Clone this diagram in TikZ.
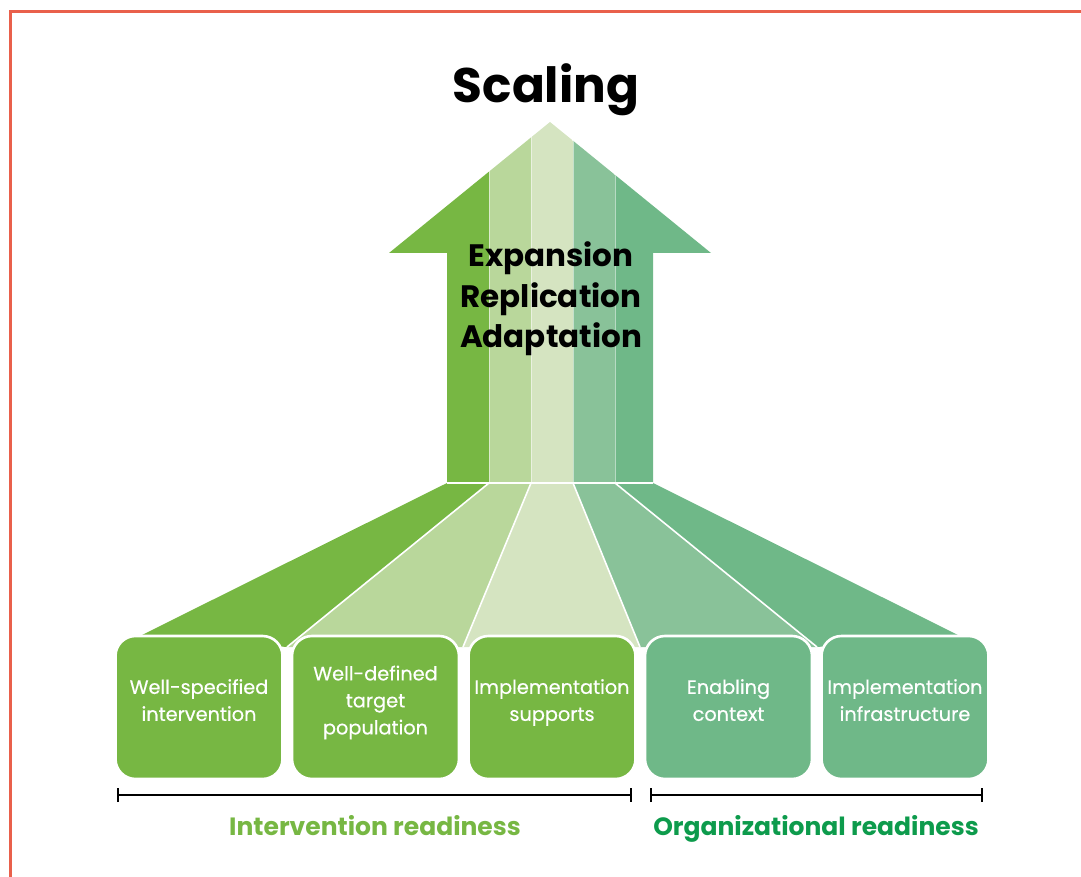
\documentclass[tikz,border=0pt]{standalone}
\usepackage{fontspec}
\setmainfont{Poppins}
\newfontfamily\cardfont[FakeBold=0.5]{Poppins}
\usetikzlibrary{arrows.meta}
\definecolor{grA}{RGB}{119,183,67}
\definecolor{grB}{RGB}{185,215,155}
\definecolor{grC}{RGB}{213,228,193}
\definecolor{grD}{RGB}{137,194,153}
\definecolor{grE}{RGB}{111,184,136}
\definecolor{orgtext}{RGB}{13,155,76}
\definecolor{frame}{RGB}{233,96,75}
\begin{document}
\begin{tikzpicture}[x=1pt,y=-1pt,
	card/.style={draw=white,line width=2.6pt,rounded corners=20pt,minimum width=167pt,minimum height=143pt,inner sep=0pt,text=white,align=center,font=\cardfont\fontsize{19.3}{27}\selectfont,execute at begin node=\rule{0pt}{15pt},execute at end node=\rule[-15pt]{0pt}{15pt}},
	headline/.style={anchor=base,font=\fontsize{31}{40}\selectfont\bfseries},
	readiness/.style={anchor=base,font=\fontsize{25}{30}\selectfont\bfseries},
	bracket/.style={line width=2.3pt,{Bar[width=14pt]}-{Bar[width=14pt]}}]
	\useasboundingbox (0,0) rectangle (1081,877);
	\draw[frame,line width=3pt] (1081,12) -- (10,12) -- (10,877);
	\coordinate (s0) at (447,483);
	\coordinate (s1) at (489,483);
	\coordinate (s2) at (531,483);
	\coordinate (s3) at (573,483);
	\coordinate (s4) at (615,483);
	\coordinate (s5) at (653,483);
	\coordinate (g0) at (140,636);
	\coordinate (g1) at (287,647);
	\coordinate (g2) at (463,647);
	\coordinate (g3) at (640,647);
	\coordinate (g4) at (817,647);
	\coordinate (g5) at (960,636);
	\begin{scope}
		\clip (s0) -- (447,253) -- (389,253) -- (550,122) -- (711,253) -- (653,253) -- (s5) -- cycle;
		\fill[grA] (380,110) rectangle (s1);
		\fill[grB] (489,110) rectangle (s2);
		\fill[grC] (531,110) rectangle (s3);
		\fill[grD] (573,110) rectangle (s4);
		\fill[grE] (615,110) rectangle (720,483);
		\draw[white,opacity=.5,line width=.6pt] (s1) -- (489,110) (s2) -- (531,110) (s3) -- (573,110) (s4) -- (615,110);
	\end{scope}
	\fill[grA] (s0) -- (s1) -- (g1) -- (g0) -- cycle;
	\fill[grB] (s1) -- (s2) -- (g2) -- (g1) -- cycle;
	\fill[grC] (s2) -- (s3) -- (g3) -- (g2) -- cycle;
	\fill[grD] (s3) -- (s4) -- (g4) -- (g3) -- cycle;
	\fill[grE] (s4) -- (s5) -- (g5) -- (g4) -- cycle;
	\draw[white,line width=1.6pt] (s0) -- (s5) (s1) -- (g1) (s2) -- (g2) (s3) -- (g3) (s4) -- (g4);
	\node[card,fill=grA] (spec) at (199,707.5) {Well-specified\\intervention};
	\node[card,fill=grA] (target) at (375.5,707.5) {Well-defined\\target\\population};
	\node[card,fill=grA] (supports) at (552,707.5) {Implementation\\supports};
	\node[card,fill=grE] (context) at (728.5,707.5) {Enabling\\context};
	\node[card,fill=grE] (infra) at (905,707.5) {Implementation\\infrastructure};
	\node[anchor=base,font=\fontsize{48.5}{58}\selectfont\bfseries] (scaling) at (546,103) {Scaling};
	\node[headline] (expansion) at (551,267) {Expansion};
	\node[headline] (replication) at (551,307) {Replication};
	\node[headline] (adaptation) at (551,347) {Adaptation};
	\draw[bracket] (117,795) -- (632,795);
	\draw[bracket] (650,795) -- (983,795);
	\node[readiness,text=grA] (intready) at (375,835) {Intervention readiness};
	\node[readiness,text=orgtext] (orgready) at (816,835) {Organizational readiness};
\end{tikzpicture}
\end{document}
